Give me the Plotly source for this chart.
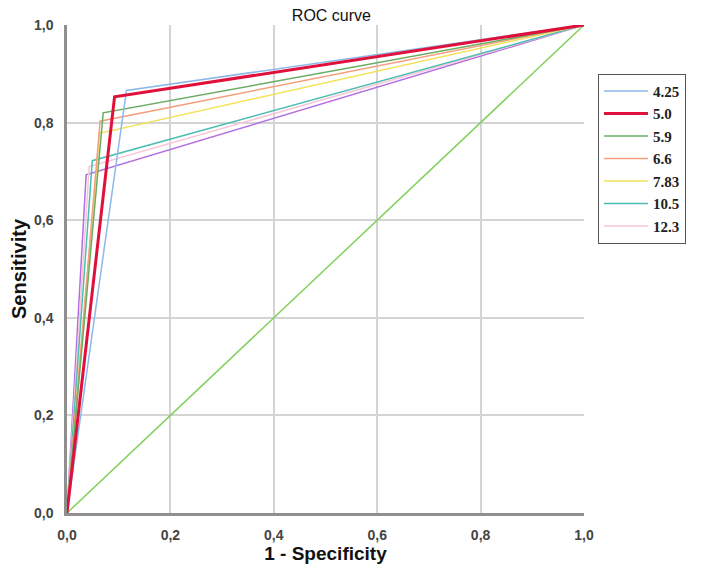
import plotly.graph_objects as go

labels = ["4.25", "5.0", "5.9", "6.6", "7.83", "10.5", "12.3"]
knee_fpr = [0.115, 0.092, 0.070, 0.064, 0.063, 0.049, 0.043]
knee_tpr = [0.866, 0.853, 0.820, 0.803, 0.778, 0.722, 0.710]
colors = ["#8db8ea", "#e0103c", "#6aac64", "#f4a07c", "#f2e25a", "#4cbdb2", "#f7c6d8"]
widths = [1.5, 3, 1.5, 1.5, 1.5, 1.5, 1.5]

extra_fpr = 0.037
extra_tpr = 0.693
extra_color = "#b26ee2"

ref_x = [0.0, 1.0]
ref_y = [0.0, 1.0]

fig = go.Figure()

fig.add_trace(go.Scatter(x=ref_x, y=ref_y, mode="lines",
                         line=dict(color="#82d05c", width=1.5), showlegend=False))
fig.add_trace(go.Scatter(x=[0, extra_fpr, 1], y=[0, extra_tpr, 1], mode="lines",
                         line=dict(color=extra_color, width=1.5), showlegend=False))

order = [6, 5, 4, 3, 2, 0, 1]
for i in order:
    fig.add_trace(go.Scatter(x=[0, knee_fpr[i], 1], y=[0, knee_tpr[i], 1], mode="lines",
                             name=labels[i], legendrank=i + 1,
                             line=dict(color=colors[i], width=widths[i])))

# page body has an 8px margin, so the figure is sized to fit the 708x576 window
fig.update_layout(
    width=700, height=568,
    margin=dict(l=59, r=124, t=17, b=63, autoexpand=False),
    paper_bgcolor="white", plot_bgcolor="white",
    separators=", ",
    title=dict(text="ROC curve", x=0.462, xanchor="center", y=1.0, yanchor="top",
               automargin=False, pad=dict(t=2, b=0),
               font=dict(family="Liberation Sans, Arial", size=16, color="#111")),
    font=dict(family="Liberation Sans, Arial", color="#333"),
    legend=dict(x=1.027, y=0.9, xanchor="left", yanchor="top",
                bordercolor="#555", borderwidth=1, bgcolor="white",
                font=dict(family="Liberation Serif, Times New Roman", size=15,
                          color="#222", weight="bold"),
                itemwidth=44, traceorder="normal"),
    xaxis=dict(range=[0, 1], dtick=0.2, tickformat=".1f", showgrid=True,
               gridcolor="#d4d4d4", gridwidth=1.5, zeroline=False, automargin=False,
               showline=True, linecolor="#8f8f8f", linewidth=2.5,
               ticklabelstandoff=7,
               tickfont=dict(size=14, color="#444", weight="bold"),
               title=dict(text="<b>1 - Specificity</b>", standoff=6,
                          font=dict(size=19, color="#111"))),
    yaxis=dict(range=[0, 1], dtick=0.2, tickformat=".1f", showgrid=True,
               gridcolor="#d4d4d4", gridwidth=1.5, zeroline=False, automargin=False,
               showline=True, linecolor="#8f8f8f", linewidth=2.5,
               ticklabelstandoff=8,
               tickfont=dict(size=14, color="#444", weight="bold"),
               title=dict(text="<b>Sensitivity</b>", standoff=7,
                          font=dict(size=20, color="#111"))),
)

fig.write_html("out.html")
